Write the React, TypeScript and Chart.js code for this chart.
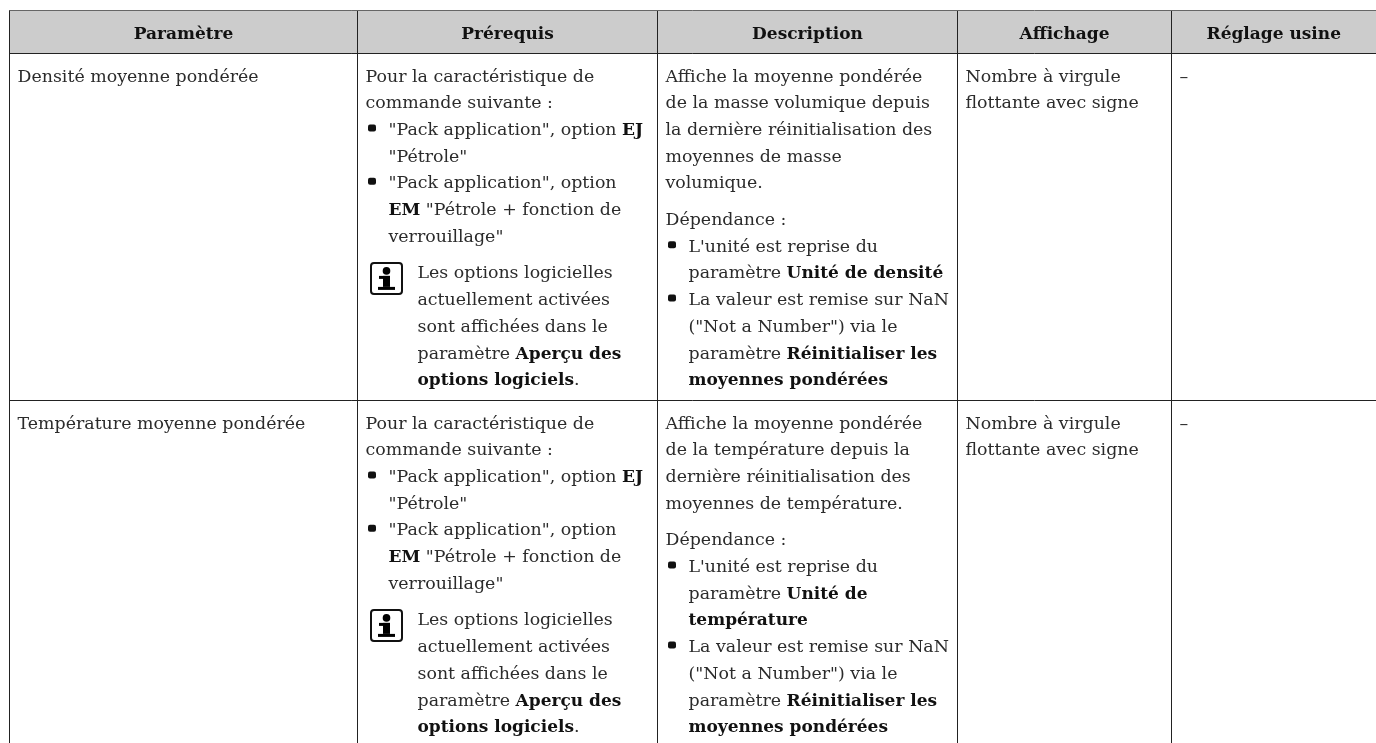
import React, { useEffect, useRef } from "react";
import { Chart, registerables } from "chart.js";

Chart.register(...registerables);

type Block = { kind: "p" | "bullet" | "note"; lines: string[] };

const headers = ["Paramètre", "Prérequis", "Description", "Affichage", "Réglage usine"];

const parameterNames = ["Densité moyenne pondérée", "Température moyenne pondérée"];

const commonPrerequisites: Block[] = [
  { kind: "p", lines: ["Pour la caractéristique de", "commande suivante :"] },
  { kind: "bullet", lines: ['"Pack application", option **EJ**', '"Pétrole"'] },
  { kind: "bullet", lines: ['"Pack application", option', '**EM** "Pétrole + fonction de', 'verrouillage"'] },
  { kind: "note", lines: ["Les options logicielles", "actuellement activées", "sont affichées dans le", "paramètre **Aperçu des**", "**options logiciels**."] },
];

const nanBullet: Block = {
  kind: "bullet",
  lines: ["La valeur est remise sur NaN", '("Not a Number") via le', "paramètre **Réinitialiser les**", "**moyennes pondérées**"],
};

const densityDescription: Block[] = [
  { kind: "p", lines: ["Affiche la moyenne pondérée", "de la masse volumique depuis", "la dernière réinitialisation des", "moyennes de masse", "volumique."] },
  { kind: "p", lines: ["Dépendance :"] },
  { kind: "bullet", lines: ["L'unité est reprise du", "paramètre **Unité de densité**"] },
  nanBullet,
];

const temperatureDescription: Block[] = [
  { kind: "p", lines: ["Affiche la moyenne pondérée", "de la température depuis la", "dernière réinitialisation des", "moyennes de température."] },
  { kind: "p", lines: ["Dépendance :"] },
  { kind: "bullet", lines: ["L'unité est reprise du", "paramètre **Unité de**", "**température**"] },
  nanBullet,
];

const displayLines = ["Nombre à virgule", "flottante avec signe"];
const factoryDefault = ["–"];

const columnEdges = [9.5, 357.5, 657.5, 957.5, 1171.5];
const rowEdges = [10.5, 53.5, 400.5];
const tableRight = 1376;
const tableBottom = 743;

const FONT = '"DejaVu Serif"';
const SIZE = 17.4;
const BOLD_SIZE = 17;
const LINE = 26.7;
const GAP = 10;

function drawRuns(ctx: CanvasRenderingContext2D, text: string, x: number, y: number) {
  const parts = text.split("**");
  let cx = x;
  parts.forEach((part, i) => {
    if (!part) return;
    const bold = i % 2 === 1;
    ctx.font = bold ? `bold ${BOLD_SIZE}px ${FONT}` : `${SIZE}px ${FONT}`;
    ctx.fillStyle = bold ? "#111111" : "#2b2b2b";
    ctx.fillText(part, cx, y);
    cx += ctx.measureText(part).width;
  });
}

function drawInfoIcon(ctx: CanvasRenderingContext2D, x: number, y: number) {
  ctx.strokeStyle = "#111";
  ctx.lineWidth = 2;
  ctx.beginPath();
  ctx.roundRect(x + 1, y + 1, 31, 31, 3);
  ctx.stroke();
  ctx.fillStyle = "#000";
  ctx.beginPath();
  ctx.arc(x + 16.5, y + 9, 3.8, 0, Math.PI * 2);
  ctx.fill();
  ctx.fillRect(x + 9, y + 14, 11, 3);
  ctx.fillRect(x + 13, y + 14, 7, 11);
  ctx.fillRect(x + 8, y + 25, 17, 3);
}

function drawBlocks(ctx: CanvasRenderingContext2D, blocks: Block[], x: number, top: number) {
  let y = top + 28;
  blocks.forEach((block, b) => {
    const prev = blocks[b - 1];
    if (prev && (block.kind === "note" || (block.kind === "p" && prev.kind === "p"))) y += GAP;
    if (block.kind === "note") drawInfoIcon(ctx, x + 4.5, y - 16.5);
    block.lines.forEach((line, i) => {
      if (block.kind === "bullet" && i === 0) {
        ctx.fillStyle = "#111";
        ctx.beginPath();
        ctx.roundRect(x + 2.5, y - 10.5, 8, 7, 2);
        ctx.fill();
      }
      const indent = block.kind === "bullet" ? 23 : block.kind === "note" ? 52 : 0;
      drawRuns(ctx, line, x + indent, y);
      y += LINE;
    });
  });
}

const tablePlugin = {
  id: "tablePlugin",
  beforeDatasetsDraw(chart: any) {
    const { ctx, scales } = chart;
    const px = (v: number) => scales.x.getPixelForValue(v);
    const py = (v: number) => scales.y.getPixelForValue(v);
    ctx.save();
    ctx.fillStyle = "#cccccc";
    ctx.fillRect(px(columnEdges[0]), py(rowEdges[0]), px(tableRight) - px(columnEdges[0]), py(rowEdges[1]) - py(rowEdges[0]));
    ctx.restore();
  },
  afterDatasetsDraw(chart: any) {
    const { ctx, scales } = chart;
    const px = (v: number) => scales.x.getPixelForValue(v);
    const py = (v: number) => scales.y.getPixelForValue(v);
    ctx.save();
    ctx.textBaseline = "alphabetic";
    ctx.textAlign = "center";
    ctx.font = `bold ${BOLD_SIZE}px ${FONT}`;
    ctx.fillStyle = "#111111";
    headers.forEach((h, i) => {
      const right = columnEdges[i + 1] ?? tableRight + 0;
      ctx.fillText(h, px((columnEdges[i] + right) / 2), py(rowEdges[0]) + 28);
    });
    ctx.textAlign = "left";
    const cellPad = 8;
    parameterNames.forEach((name, r) => {
      const top = py(rowEdges[r + 1]);
      drawBlocks(ctx, [{ kind: "p", lines: [name] }], px(columnEdges[0]) + cellPad, top);
      drawBlocks(ctx, commonPrerequisites, px(columnEdges[1]) + cellPad, top);
      drawBlocks(ctx, r === 0 ? densityDescription : temperatureDescription, px(columnEdges[2]) + cellPad, top);
      drawBlocks(ctx, [{ kind: "p", lines: displayLines }], px(columnEdges[3]) + cellPad, top);
      drawBlocks(ctx, [{ kind: "p", lines: factoryDefault }], px(columnEdges[4]) + cellPad, top);
    });
    ctx.restore();
  },
};

export default function App() {
  const ref = useRef<HTMLCanvasElement>(null);
  useEffect(() => {
    const rule = (points: { x: number; y: number }[], color = "#222222") => ({
      type: "line" as const,
      data: points,
      borderColor: color,
      borderWidth: 1,
      pointRadius: 0,
      fill: false,
    });
    const datasets = [
      rule([{ x: columnEdges[0], y: rowEdges[0] }, { x: tableRight, y: rowEdges[0] }], "#666666"),
      ...rowEdges.slice(1).map((y) => rule([{ x: columnEdges[0], y }, { x: tableRight, y }])),
      ...columnEdges.map((x) => rule([{ x, y: rowEdges[0] }, { x, y: tableBottom }])),
    ];
    const chart = new Chart(ref.current!, {
      type: "scatter",
      data: { datasets },
      plugins: [tablePlugin],
      options: {
        animation: false,
        responsive: false,
        layout: { padding: 0 },
        plugins: { legend: { display: false }, tooltip: { enabled: false }, title: { display: false } },
        scales: {
          x: { type: "linear", min: 0, max: tableRight, display: false },
          y: { type: "linear", min: 0, max: tableBottom, reverse: true, display: false },
        },
      },
    } as any);
    return () => chart.destroy();
  }, []);
  return (
    <div style={{ position: "absolute", left: 0, top: 0, width: 1376, height: 743, background: "#fff", overflow: "hidden" }}>
      <canvas ref={ref} width={1376} height={743} style={{ display: "block" }} />
    </div>
  );
}
